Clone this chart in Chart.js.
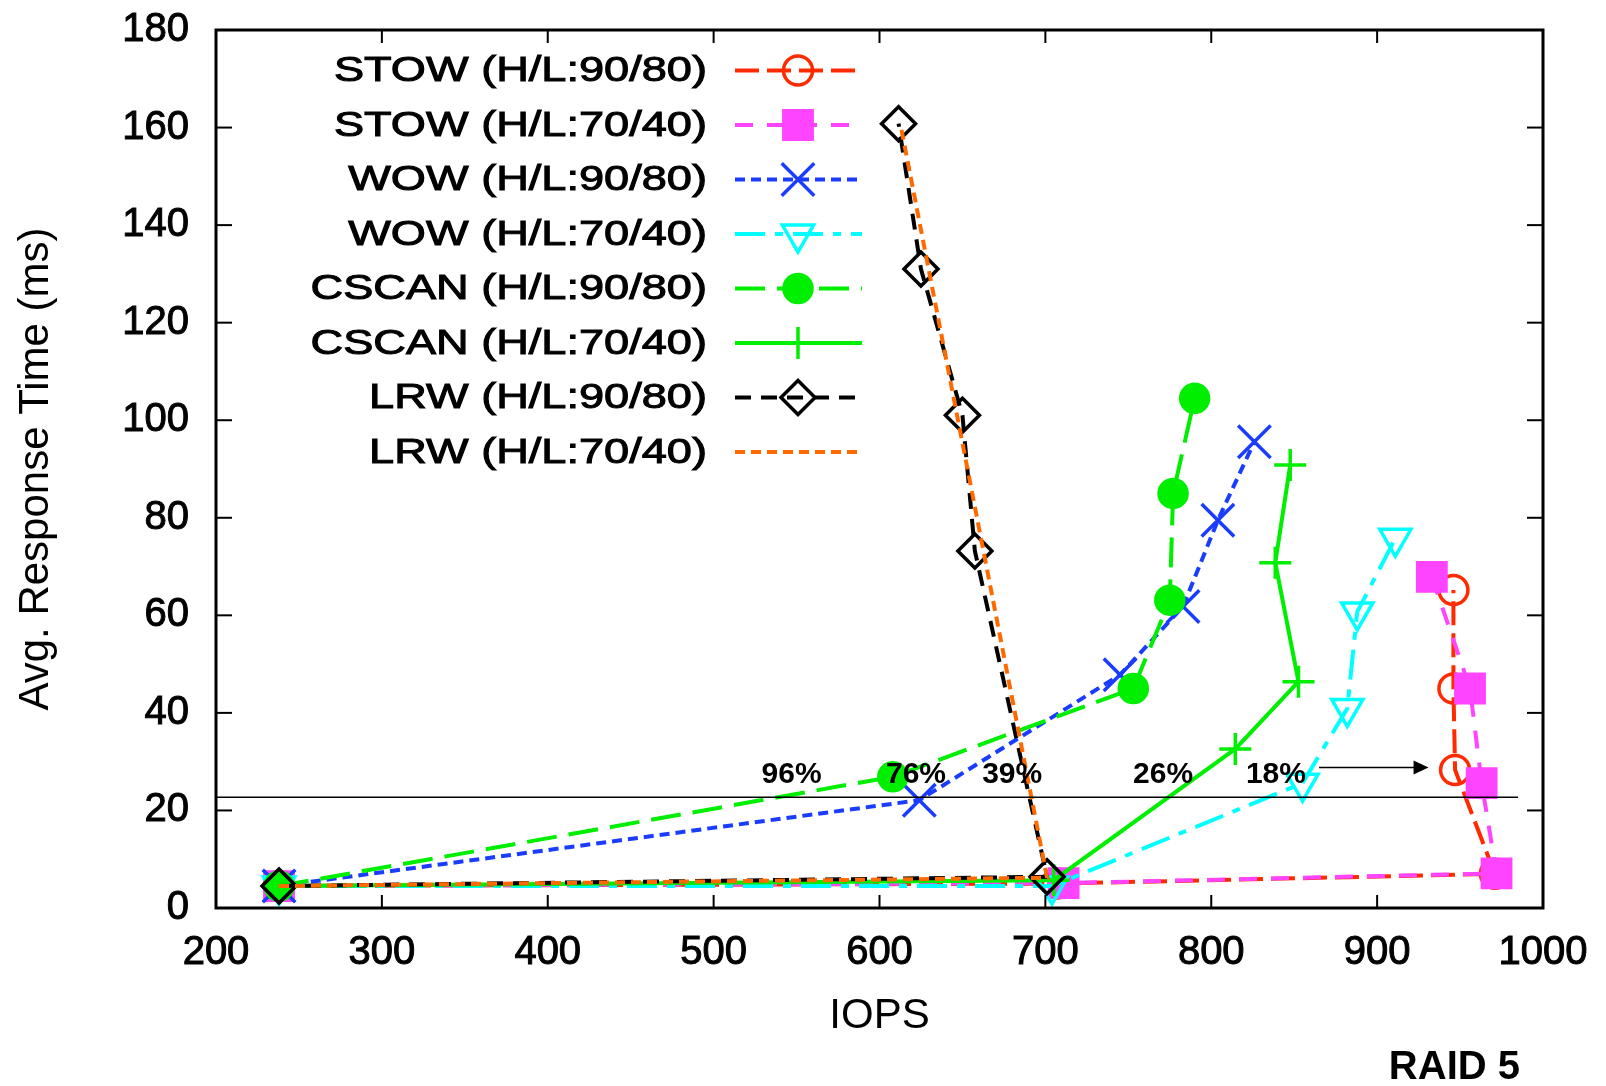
<!DOCTYPE html>
<html>
<head>
<meta charset="utf-8">
<script src="https://cdn.jsdelivr.net/npm/chart.js@4.4.1/dist/chart.umd.min.js"></script>
<style>
  html, body { margin: 0; padding: 0; background: #fff; }
</style>
</head>
<body>
<canvas id="chart" width="1606" height="1086"></canvas>
<script>
// values (IOPS, response time in ms)
const stow9080X = [238, 707, 971, 947, 946, 946];
const stow9080Y = [4.5, 5.0, 7.0, 28.3, 45, 65.2];
const stow7040X = [238, 711, 972, 963, 956, 933];
const stow7040Y = [4.5, 5.1, 7.1, 25.6, 45, 67.9];
const wow9080X = [238, 624, 745, 783, 804, 826];
const wow9080Y = [4.5, 22.1, 47.8, 61.8, 79.5, 95.6];
const wow7040X = [238, 704, 855, 882, 888, 911];
const wow7040Y = [4.5, 4.5, 25.6, 40.9, 60.7, 75.8];
const cscan9080X = [238, 608, 753, 775, 777, 790];
const cscan9080Y = [4.5, 26.9, 45, 63.1, 85, 104.5];
const cscan7040X = [238, 705, 814.5, 852.6, 838.6, 847.6];
const cscan7040Y = [4.5, 5.7, 32.6, 46.4, 70.8, 90.8];
const lrw9080X = [238, 701, 657.5, 650, 625, 611.5];
const lrw9080Y = [4.5, 6.4, 73.2, 101, 131, 160.8];
const lrw7040X = [238, 701, 613];
const lrw7040Y = [4.5, 6.2, 160];

const xTicks = [200, 300, 400, 500, 600, 700, 800, 900, 1000];
const yTicks = [0, 20, 40, 60, 80, 100, 120, 140, 160, 180];

const thresholdX = [200, 985];
const thresholdY = [22.7, 22.7];
const pctLabels = ['96%', '76%', '39%', '26%', '18%'];
const pctX = [547, 622, 680, 771, 839];
const pctY = 27.4;
const arrowX = [865, 931];
const arrowY = 28.8;

const family = '"Liberation Sans", Arial, Helvetica, sans-serif';

function pts(xs, ys) {
    return xs.map((x, i) => ({ x: x, y: ys[i] }));
}

function series(label, xs, ys, color, dash, style, radius, filled, order) {
    return {
        label: label,
        data: pts(xs, ys),
        showLine: true,
        borderColor: color,
        backgroundColor: color,
        borderWidth: 4,
        borderDash: dash,
        pointStyle: style,
        pointRadius: radius,
        pointBorderWidth: 3.5,
        pointBorderColor: color,
        pointBackgroundColor: filled ? color : 'rgba(0,0,0,0)',
        pointRotation: style === 'triangle' ? 180 : 0,
        tension: 0,
        order: order,
        inLegend: true
    };
}

const datasets = [
    series('STOW (H/L:90/80)', stow9080X, stow9080Y, '#ff2a00', [24, 8], 'circle', 14.5, false, 9),
    series('STOW (H/L:70/40)', stow7040X, stow7040Y, '#ff44ff', [18, 14], 'rect', 20, true, 8),
    series('WOW (H/L:90/80)', wow9080X, wow9080Y, '#1a3cff', [10, 6], 'crossRot', 23, false, 7),
    series('WOW (H/L:70/40)', wow7040X, wow7040Y, '#00ffff', [30, 10, 8, 10], 'triangle', 18, false, 6),
    series('CSCAN (H/L:90/80)', cscan9080X, cscan9080Y, '#00ee00', [30, 12], 'circle', 14, true, 5),
    series('CSCAN (H/L:70/40)', cscan7040X, cscan7040Y, '#00ee00', [], 'cross', 16, false, 4),
    series('LRW (H/L:90/80)', lrw9080X, lrw9080Y, '#000000', [16, 10], 'rectRot', 17, false, 3),
    series('LRW (H/L:70/40)', lrw7040X, lrw7040Y, '#ff6a00', [10, 6], false, 0, false, 2),
    {
        label: 'threshold',
        data: pts(thresholdX, thresholdY),
        showLine: true,
        borderColor: '#000',
        borderWidth: 1.5,
        pointRadius: 0,
        order: 1,
        inLegend: false
    }
];

function seg(ctx, x0, y0, x1, y1) {
    ctx.beginPath();
    ctx.moveTo(x0, y0);
    ctx.lineTo(x1, y1);
    ctx.stroke();
}

// scale labels must not push the plot area around
function noPadding(s) {
    s.paddingTop = 0;
    s.paddingBottom = 0;
    s.paddingLeft = 0;
    s.paddingRight = 0;
}

const decorations = {
    id: 'decorations',
    afterDatasetsDraw(chart) {
        const { ctx, chartArea: a, scales: { x, y } } = chart;
        ctx.save();
        ctx.setLineDash([]);
        ctx.strokeStyle = '#000';
        ctx.fillStyle = '#000';

        // frame with inward ticks on all sides
        ctx.lineWidth = 3;
        ctx.strokeRect(a.left, a.top, a.right - a.left, a.bottom - a.top);
        ctx.lineWidth = 2;
        xTicks.forEach(v => {
            const px = x.getPixelForValue(v);
            seg(ctx, px, a.bottom, px, a.bottom - 13);
            seg(ctx, px, a.top, px, a.top + 13);
        });
        yTicks.forEach(v => {
            const py = y.getPixelForValue(v);
            seg(ctx, a.left, py, a.left + 16, py);
            seg(ctx, a.right, py, a.right - 16, py);
        });

        // percentage labels
        ctx.font = 'bold 30px ' + family;
        ctx.textAlign = 'center';
        ctx.textBaseline = 'middle';
        pctLabels.forEach((t, i) => {
            ctx.fillText(t, x.getPixelForValue(pctX[i]), y.getPixelForValue(pctY));
        });

        // arrow
        const ax0 = x.getPixelForValue(arrowX[0]);
        const ax1 = x.getPixelForValue(arrowX[1]);
        const ay = y.getPixelForValue(arrowY);
        ctx.lineWidth = 1.5;
        seg(ctx, ax0, ay, ax1 - 12, ay);
        ctx.beginPath();
        ctx.moveTo(ax1, ay);
        ctx.lineTo(ax1 - 15, ay - 7);
        ctx.lineTo(ax1 - 15, ay + 7);
        ctx.closePath();
        ctx.fill();

        // legend: text on the left, sample on the right
        chart.data.datasets.forEach((ds, i) => {
            if (!ds.inLegend) return;
            const rowY = a.top + 40.5 + i * 54.5;
            ctx.save();
            ctx.fillStyle = '#000';
            ctx.strokeStyle = '#000';
            ctx.lineWidth = 1;
            ctx.font = '35px ' + family;
            ctx.textAlign = 'right';
            ctx.textBaseline = 'middle';
            ctx.translate(a.left + 491, rowY + 1);
            ctx.scale(1.29, 1);
            ctx.fillText(ds.label, 0, 0);
            ctx.strokeText(ds.label, 0, 0);
            ctx.restore();

            ctx.save();
            ctx.strokeStyle = ds.borderColor;
            ctx.lineWidth = ds.borderWidth;
            ctx.setLineDash(ds.borderDash);
            seg(ctx, a.left + 519, rowY, a.left + 646, rowY);
            ctx.setLineDash([]);
            if (ds.pointStyle) {
                ctx.strokeStyle = ds.pointBorderColor;
                ctx.fillStyle = ds.pointBackgroundColor;
                ctx.lineWidth = ds.pointBorderWidth;
                Chart.helpers.drawPoint(ctx, {
                    pointStyle: ds.pointStyle,
                    rotation: ds.pointRotation,
                    radius: ds.pointRadius,
                    borderWidth: ds.pointBorderWidth
                }, a.left + 582, rowY);
            }
            ctx.restore();
        });

        // panel tag
        ctx.font = 'bold 40px ' + family;
        ctx.textAlign = 'right';
        ctx.textBaseline = 'middle';
        ctx.fillText('RAID 5', a.right - 23, 1068);
        ctx.restore();
    }
};

const tickFont = { family: family, size: 40 };

new Chart(document.getElementById('chart'), {
    type: 'scatter',
    data: { datasets: datasets },
    options: {
        responsive: false,
        animation: false,
        events: [],
        layout: { padding: { top: 30, right: 63, left: 0, bottom: 0 } },
        plugins: {
            legend: { display: false },
            tooltip: { enabled: false }
        },
        scales: {
            x: {
                type: 'linear',
                min: 200,
                max: 1000,
                afterFit: s => { s.height = 178; noPadding(s); },
                afterBuildTicks: s => { s.ticks = xTicks.map(v => ({ value: v })); },
                grid: { display: false, drawTicks: false },
                border: { display: false },
                ticks: {
                    padding: 21, color: '#000', font: tickFont, maxRotation: 0,
                    textStrokeColor: '#000', textStrokeWidth: 1,
                    callback: v => String(v)
                },
                title: {
                    display: true, text: 'IOPS', color: '#000',
                    font: { family: family, size: 42, lineHeight: 1.2 },
                    padding: { top: 0, bottom: 44 }
                }
            },
            y: {
                type: 'linear',
                min: 0,
                max: 180,
                afterFit: s => { s.width = 216; noPadding(s); },
                afterBuildTicks: s => { s.ticks = yTicks.map(v => ({ value: v })); },
                grid: { display: false, drawTicks: false },
                border: { display: false },
                ticks: {
                    padding: 27, color: '#000', font: tickFont,
                    textStrokeColor: '#000', textStrokeWidth: 1,
                    callback: v => String(v)
                },
                title: {
                    display: true, text: 'Avg. Response Time (ms)', color: '#000',
                    font: { family: family, size: 42, lineHeight: 1.2 },
                    padding: { top: 11, bottom: 0 }
                }
            }
        }
    },
    plugins: [decorations]
});
</script>
</body>
</html>
